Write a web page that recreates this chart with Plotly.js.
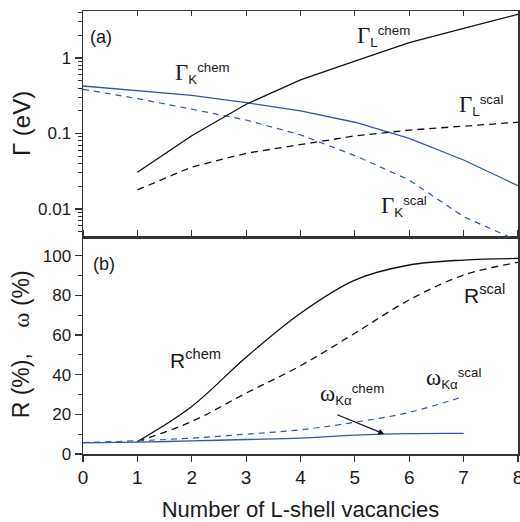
<!DOCTYPE html>
<html>
<head>
<meta charset="utf-8">
<script src="https://cdn.plot.ly/plotly-3.0.1.min.js"></script>
<style>html,body{margin:0;padding:0;background:#fff;}#chart{width:520px;height:522px;}</style>
</head>
<body>
<div id="chart"></div>
<script>
// ---- data ----
const xAll = [0, 1, 2, 3, 4, 5, 6, 7, 8];
const xL = [1, 2, 3, 4, 5, 6, 7, 8];
const xOmega = [0, 1, 2, 3, 4, 5, 6, 7];
const xTicks = [0, 1, 2, 3, 4, 5, 6, 7, 8];

// panel (a): widths Γ (eV)
const gammaKchem = [0.426, 0.369, 0.32, 0.256, 0.199, 0.141, 0.086, 0.0446, 0.0204];
const gammaKscal = [0.385, 0.29, 0.21, 0.151, 0.096, 0.051, 0.0242, 0.0079, 0.0038];
const gammaLchem = [0.0306, 0.0935, 0.244, 0.512, 0.91, 1.60, 2.47, 3.79];
const gammaLscal = [0.0179, 0.036, 0.0547, 0.072, 0.093, 0.111, 0.126, 0.141];

// panel (b): R (%) and ω (%)
const Rchem = [6.3, 24.0, 48.8, 71.0, 87.7, 95.3, 97.8, 98.6];
const Rscal = [6.3, 16.4, 30.7, 44.5, 60.9, 77.7, 90.2, 96.6];
const omegaScal = [5.8, 6.7, 8.0, 10.0, 12.2, 16.0, 21.0, 29.0];
const omegaChem = [5.6, 6.0, 6.6, 7.3, 8.0, 9.5, 10.3, 10.4];

const logTickVals = [0.01, 0.1, 1];
const logTickText = ['0.01', '0.1', '1'];
const linTickVals = [0, 20, 40, 60, 80, 100];

// ---- styling ----
const BLACK = '#111111';
const BLUE = '#3355b0';
const AX = '#333333';
const SANS = 'Liberation Sans, Arial, sans-serif';

const logMinor = [];
[0.001, 0.01, 0.1, 1].forEach(d => { for (let k = 2; k <= 9; k++) logMinor.push(+(d * k).toPrecision(3)); });

const traces = [
  {x: xAll, y: gammaKchem, xaxis: 'x2', yaxis: 'y2', mode: 'lines', line: {color: BLUE, width: 1.3}},
  {x: xAll, y: gammaKscal, xaxis: 'x2', yaxis: 'y2', mode: 'lines', line: {color: BLUE, width: 1.2, dash: '6px,5px'}},
  {x: xL, y: gammaLchem, xaxis: 'x2', yaxis: 'y2', mode: 'lines', line: {color: BLACK, width: 1.3}},
  {x: xL, y: gammaLscal, xaxis: 'x2', yaxis: 'y2', mode: 'lines', line: {color: BLACK, width: 1.3, dash: '7px,5px'}},
  {x: xL, y: Rchem, xaxis: 'x', yaxis: 'y', mode: 'lines', line: {color: BLACK, width: 1.3, shape: 'spline', smoothing: 1}},
  {x: xL, y: Rscal, xaxis: 'x', yaxis: 'y', mode: 'lines', line: {color: BLACK, width: 1.3, dash: '7px,5px', shape: 'spline', smoothing: 1}},
  {x: xOmega, y: omegaScal, xaxis: 'x', yaxis: 'y', mode: 'lines', line: {color: BLUE, width: 1.2, dash: '6px,5px', shape: 'spline', smoothing: 1}},
  {x: xOmega, y: omegaChem, xaxis: 'x', yaxis: 'y', mode: 'lines', line: {color: BLUE, width: 1.3, shape: 'spline', smoothing: 1}}
];

const split = 0.4898;
const G = '<span style="font-family:Liberation Serif,serif;font-size:23px">Γ</span>';
const W = '<span style="font-family:Liberation Serif,serif;font-size:23px">ω</span>';

function lab(text, x, y, xref, yref, size) {
  return {text: text, x: x, y: y, xref: xref, yref: yref, xanchor: 'left', yanchor: 'middle',
          showarrow: false, font: {family: SANS, size: size || 19, color: '#1a1a1a'}};
}

const annotations = [
  // y-axis titles (placed as rotated texts beside each panel)
  {text: 'Γ (eV)', xref: 'paper', yref: 'paper', x: -0.14, y: 0.745, xanchor: 'center', yanchor: 'middle',
   textangle: -90, showarrow: false, font: {family: SANS, size: 24, color: '#1a1a1a'}},
  {text: 'R (%),\u00a0\u00a0\u00a0 <span style="font-family:Liberation Serif,serif">ω</span> (%)',
   xref: 'paper', yref: 'paper', x: -0.142, y: 0.248, xanchor: 'center', yanchor: 'middle',
   textangle: -90, showarrow: false, font: {family: SANS, size: 23, color: '#1a1a1a'}},
  lab('(a)', 0.1, 0.272, 'x2', 'y2', 18),
  lab('(b)', 0.15, 96.0, 'x', 'y', 18),
  lab(G + '<sub>K</sub><sup>chem</sup>', 1.66, -0.2, 'x2', 'y2'),
  lab(G + '<sub>L</sub><sup>chem</sup>', 5.0, 0.285, 'x2', 'y2'),
  lab(G + '<sub>L</sub><sup>scal</sup>', 6.88, -0.629, 'x2', 'y2'),
  lab(G + '<sub>K</sub><sup>scal</sup>', 5.45, -1.967, 'x2', 'y2'),
  lab('R<sup>chem</sup>', 1.57, 48.0, 'x', 'y', 21),
  lab('R<sup>scal</sup>', 6.97, 80.9, 'x', 'y', 21),
  lab(W + '<sub>Kα</sub><sup>scal</sup>', 6.28, 38.1, 'x', 'y'),
  lab(W + '<sub>Kα</sub><sup>chem</sup>', 4.32, 29.8, 'x', 'y'),
  {x: 5.54, y: 10.1, xref: 'x', yref: 'y', ax: 4.65, ay: 20.1, axref: 'x', ayref: 'y',
   text: '', showarrow: true, arrowhead: 2, arrowsize: 1, arrowwidth: 1.2, arrowcolor: BLACK, standoff: 0}
];

const baseX = {range: [0, 8], tickvals: xTicks, showline: true, linecolor: AX, linewidth: 1.5,
               showgrid: false, zeroline: false, tickcolor: AX, tickwidth: 1.2};
const layout = {
  width: 520, height: 522,
  margin: {l: 83, r: 2, t: 11, b: 68},
  paper_bgcolor: '#ffffff', plot_bgcolor: '#ffffff', showlegend: false,
  font: {family: SANS, color: '#1a1a1a'},
  xaxis: Object.assign({}, baseX, {anchor: 'y', domain: [0, 1], ticks: 'outside', ticklen: 6, mirror: 'ticks',
    ticklabeloverflow: 'allow',
    tickfont: {size: 19, family: SANS, color: '#1a1a1a'},
    title: {text: 'Number of L-shell vacancies', font: {size: 22, family: SANS, color: '#1a1a1a'}, standoff: 14}}),
  xaxis2: Object.assign({}, baseX, {anchor: 'y2', matches: 'x', domain: [0, 1], ticks: 'inside', ticklen: 5,
    mirror: 'ticks', showticklabels: false}),
  yaxis: {anchor: 'x', domain: [0, split], range: [0, 109.4], tickvals: linTickVals, ticks: 'outside', ticklen: 7,
    tickcolor: AX, tickwidth: 1.2, showline: true, linecolor: AX, linewidth: 1.5, mirror: true,
    showgrid: false, zeroline: false,
    minor: {dtick: 10, tick0: 0, ticks: 'outside', ticklen: 4, tickcolor: AX, tickwidth: 1, showgrid: false},
    tickfont: {size: 17, family: SANS, color: '#1a1a1a'}},
  yaxis2: {anchor: 'x2', domain: [split, 1], type: 'log', range: [-2.371, 0.6225],
    tickvals: logTickVals, ticktext: logTickText, ticks: 'outside', ticklen: 7,
    tickcolor: AX, tickwidth: 1.2, showline: true, linecolor: AX, linewidth: 1.5, mirror: true,
    showgrid: false, zeroline: false,
    minor: {tickvals: logMinor, ticks: 'outside', ticklen: 4, tickcolor: AX, tickwidth: 1, showgrid: false},
    tickfont: {size: 17, family: SANS, color: '#1a1a1a'}},
  yaxis3: {overlaying: 'y2', anchor: 'x2', side: 'right', type: 'log', range: [-2.371, 0.6225],
    tickvals: logTickVals, ticks: 'inside', ticklen: 6, tickcolor: AX, tickwidth: 1.2,
    showticklabels: false, showline: false, showgrid: false, zeroline: false,
    minor: {tickvals: logMinor, ticks: 'inside', ticklen: 3, tickcolor: AX, tickwidth: 1, showgrid: false}},
  yaxis4: {overlaying: 'y', anchor: 'x', side: 'right', range: [0, 109.4],
    tickvals: linTickVals, ticks: 'inside', ticklen: 6, tickcolor: AX, tickwidth: 1.2,
    showticklabels: false, showline: false, showgrid: false, zeroline: false,
    minor: {dtick: 10, tick0: 0, ticks: 'inside', ticklen: 3, tickcolor: AX, tickwidth: 1, showgrid: false}},
  annotations: annotations
};

Plotly.newPlot('chart', traces, layout, {staticPlot: true, displayModeBar: false});
</script>
</body>
</html>
